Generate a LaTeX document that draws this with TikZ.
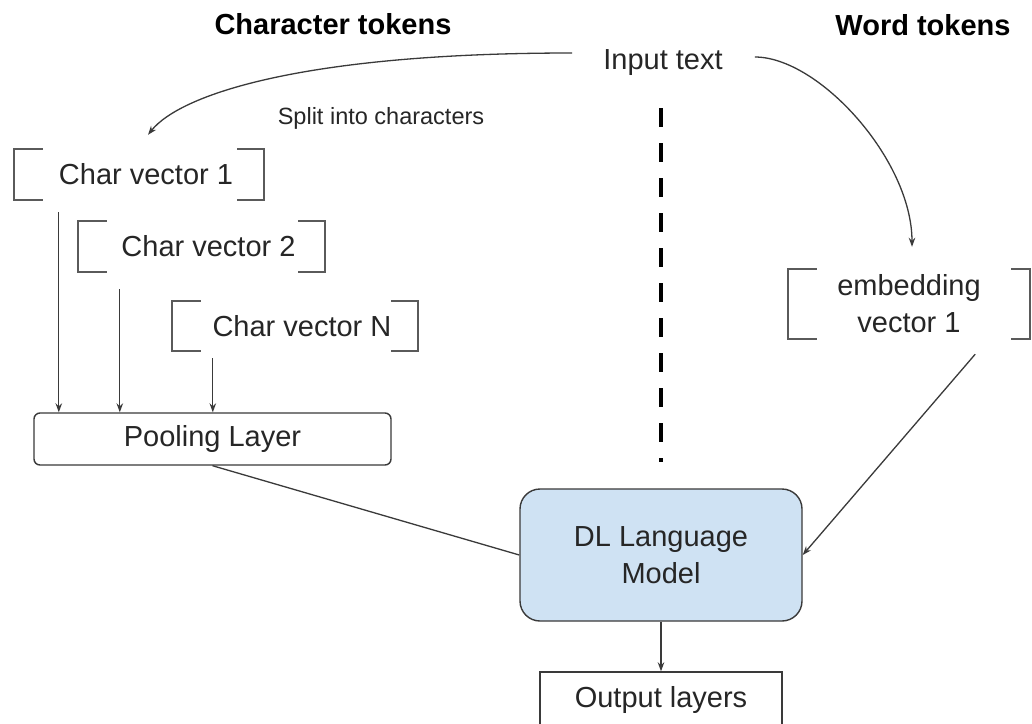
\documentclass[tikz,border=0pt]{standalone}
\usepackage{fontspec}
\setmainfont{Liberation Sans}
\usetikzlibrary{arrows.meta}
\definecolor{ink}{HTML}{262626}
\definecolor{linec}{HTML}{3A3A3A}
\definecolor{brk}{HTML}{5A5A5A}
\definecolor{dlfill}{HTML}{CFE2F3}
\tikzset{
  txt/.style={text=ink, inner sep=0pt, font=\fontsize{29}{37}\selectfont, align=center},
  head/.style={text=black, inner sep=0pt, font=\fontsize{29}{33}\selectfont\bfseries},
  small/.style={text=ink, inner sep=0pt, font=\fontsize{23.5}{27}\selectfont},
  vecbox/.style={txt, minimum height=51pt},
  bracket/.style={draw=brk, line width=1.5pt},
  conn/.style={draw=linec, line width=1.3pt},
  arr/.style={conn, -{Stealth[length=9pt,width=6.5pt]}},
  boxr/.style={txt, draw=linec, line width=1.4pt},
}
\begin{document}
\begin{tikzpicture}[x=1pt,y=-1pt]
\useasboundingbox (0,0) rectangle (1032,723);
\clip (0,0) rectangle (1032,723);
\fill[white] (0,0) rectangle (1032,723);

% headers
\node[head] (hchar) at (333,24) {Character tokens};
\node[head] (hword) at (923,25) {Word tokens};

% input
\node[txt] (in) at (663,63) {Input text};
\node[small] (split) at (381,118) {Split into characters};

% character vectors
\node[vecbox, minimum width=250pt] (cv1) at (139,174.5) {\hspace*{14pt}Char vector 1};
\node[vecbox, minimum width=247pt] (cv2) at (201.5,246.5) {\hspace*{14pt}Char vector 2};
\node[vecbox, minimum width=246pt, minimum height=50pt] (cvn) at (295,326) {\hspace*{14pt}Char vector N};
\foreach \n in {cv1,cv2,cvn}{
  \draw[bracket] ([xshift=29pt]\n.north west) -- (\n.north west) -- (\n.south west) -- ([xshift=29pt]\n.south west);
  \draw[bracket] ([xshift=-27pt]\n.north east) -- (\n.north east) -- (\n.south east) -- ([xshift=-27pt]\n.south east);
}

% embedding
\node[txt, minimum width=242pt, minimum height=70pt] (emb) at (909,304) {embedding\\vector 1};
\draw[bracket] ([xshift=29pt]emb.north west) -- (emb.north west) -- (emb.south west) -- ([xshift=29pt]emb.south west);
\draw[bracket] ([xshift=-19pt]emb.north east) -- (emb.north east) -- (emb.south east) -- ([xshift=-19pt]emb.south east);

% pooling
\node[boxr, rounded corners=6pt, minimum width=357pt, minimum height=52pt] (pool) at (212.5,439) {Pooling Layer};

% DL model
\node[boxr, fill=dlfill, rounded corners=20pt, minimum width=282pt, minimum height=132pt] (dl) at (661,555) {DL Language\\Model};

% output
\node[boxr, minimum width=242pt, minimum height=56pt] (out) at (661,700) {Output layers};

% dashed separator
\coordinate (dtop) at (661,108);
\coordinate (dbot) at (661,462);
\draw[black, line width=4pt, dash pattern=on 19pt off 16pt] (dtop) -- (dbot);

% curves from input
\draw[arr] ([shift={(-31,-10)}]in.west) .. controls +(-271,0) and +(32,-40) .. ([shift={(9,-14)}]cv1.north);
\draw[arr] ([shift={(32,-6)}]in.east) .. controls +(64,0) and +(0,-87) .. ([shift={(3,-22)}]emb.north);

% char vectors to pooling
\coordinate (s1) at ([shift={(45,12)}]cv1.south west);
\coordinate (s2) at ([shift={(42,17)}]cv2.south west);
\coordinate (s3) at ([shift={(41,7)}]cvn.south west);
\draw[arr] (s1) -- (s1 |- pool.north);
\draw[arr] (s2) -- (s2 |- pool.north);
\draw[arr] (s3) -- (s3 |- pool.north);

% to DL
\draw[conn] (pool.south) -- (dl.west);
\draw[arr] ([shift={(-55,15)}]emb.south east) -- (dl.east);
\draw[arr] (dl.south) -- (out.north);
\end{tikzpicture}
\end{document}
